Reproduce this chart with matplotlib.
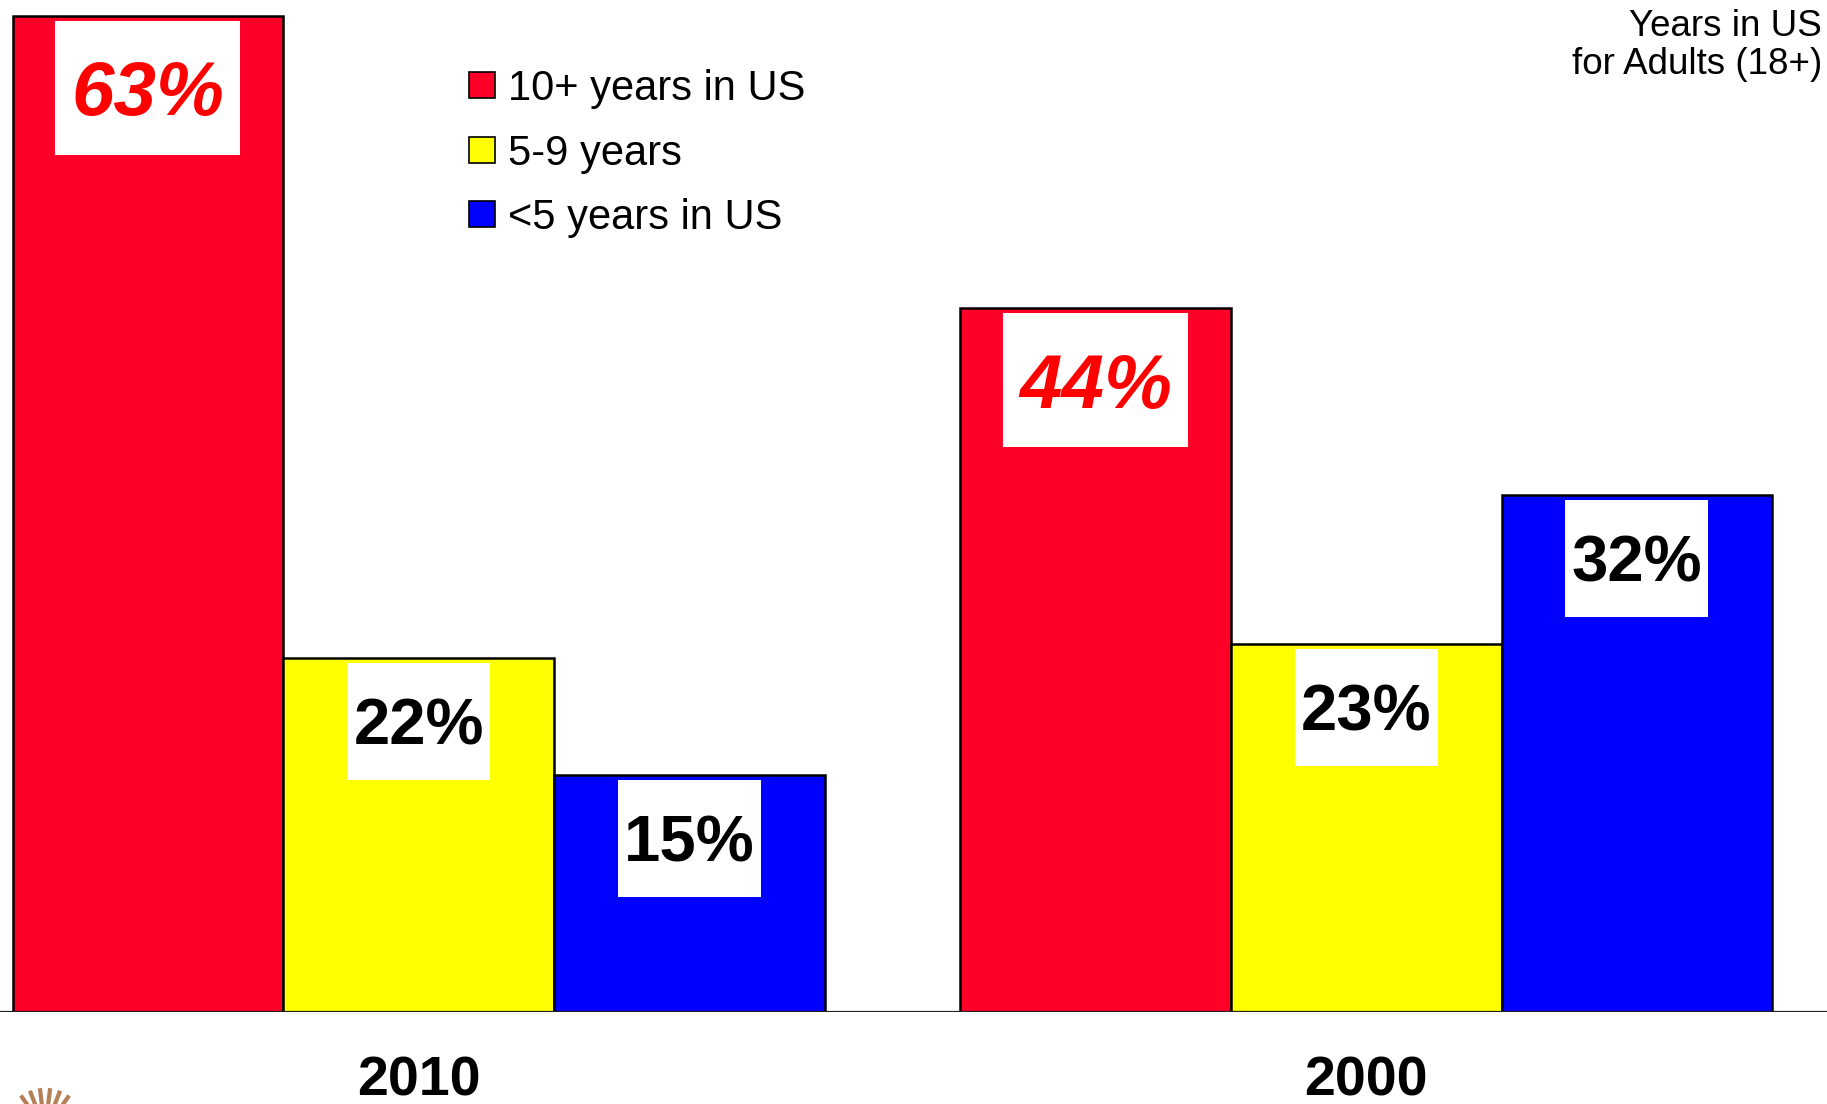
import matplotlib.pyplot as plt
import matplotlib.transforms as mtransforms
from matplotlib.patches import Rectangle
import numpy as np

plt.rcParams['font.family'] = ['Liberation Sans', 'DejaVu Sans']

# data
groups = ['2010', '2000']
series = ['10+ years in US', '5-9 years', '<5 years in US']
colors = ['#ff0028', '#ffff00', '#0000ff']
heights_2010 = [63.0, 22.4, 15.0]
heights_2000 = [44.5, 23.3, 32.7]
labels_2010 = ['63%', '22%', '15%']
labels_2000 = ['44%', '23%', '32%']
note = 'Years in US\nfor Adults (18+)'

W, H, DPI = 1827, 1104, 100
fig = plt.figure(figsize=(W / DPI, H / DPI), dpi=DPI)
ax = fig.add_axes([0, 92 / H, 1, 1012 / H])
ax.set_xlim(-0.4419, 1.4863)
ax.set_ylim(0, 64.0)
ax.axis('off')

bw = 2 / 7
heights = [heights_2010, heights_2000]
labels = [labels_2010, labels_2000]
for g in range(len(groups)):
    for s in range(len(series)):
        x = g + (s - 1) * bw
        h = heights[g][s]
        ax.bar(x, h, width=bw, color=colors[s], edgecolor='black', linewidth=1.8, zorder=2)
        # white label box hanging just below the bar top (sizes in pixels)
        base = fig.dpi_scale_trans + mtransforms.ScaledTranslation(x, h, ax.transData)
        if s == 0:
            bwid, bhgt, fs, col, sty = 185, 134, 55, '#ff0000', 'italic'
        else:
            bwid, bhgt, fs, col, sty = 143, 117, 47, 'black', 'normal'
        cap = fs / 0.72 * 0.716
        top = 5
        ax.add_artist(Rectangle((-bwid / 2 / DPI, -(top + bhgt) / DPI), bwid / DPI, bhgt / DPI,
                                transform=base, facecolor='white', edgecolor='none', zorder=3))
        ax.text(0, -(top + bhgt / 2 + cap / 2) / DPI, labels[g][s], transform=base,
                ha='center', va='baseline', fontsize=fs, fontweight='bold', style=sty,
                color=col, zorder=4)
    ax.text(g, -4.4, groups[g], ha='center', va='center', fontsize=40, fontweight='bold',
            clip_on=False)

ax.axhline(0, color='#222222', linewidth=1.6, zorder=5)

# legend drawn by hand
for i, (name, c) in enumerate(zip(series, colors)):
    yc = 85 + i * 64.5
    fig.add_artist(Rectangle((469 / W, 1 - (yc + 13) / H), 26 / W, 26 / H,
                             transform=fig.transFigure, facecolor=c, edgecolor='black',
                             linewidth=1.2))
    fig.text(508 / W, 1 - (yc + 4) / H, name, ha='left', va='center', fontsize=30)

fig.text(1822 / W, 1 - 9 / H, note, ha='right', va='top', fontsize=26.5, linespacing=1.12)

# cut-off logo at the bottom-left corner
for ang in np.linspace(55, 125, 6):
    a = np.deg2rad(ang)
    cx, cy = 45, 1130
    xs = [cx + 22 * np.cos(a), cx + 40 * np.cos(a)]
    ys = [cy - 22 * np.sin(a), cy - 40 * np.sin(a)]
    fig.add_artist(plt.Line2D([v / W for v in xs], [1 - v / H for v in ys],
                              transform=fig.transFigure, color='#b58058', linewidth=3))

fig.savefig('out.png', dpi=DPI)
